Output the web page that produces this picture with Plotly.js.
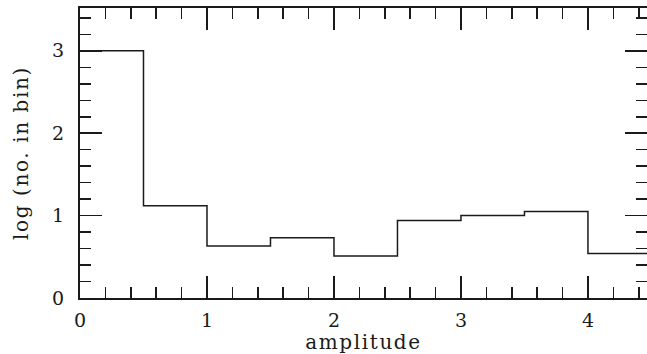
<!DOCTYPE html>
<html>
<head>
<meta charset="utf-8">
<script src="https://cdn.plot.ly/plotly-3.0.1.min.js"></script>
<style>html,body{margin:0;padding:0;background:#fff;}#chart{width:647px;height:354px;}
.xtitle,.ytitle{letter-spacing:1.6px;}</style>
</head>
<body>
<div id="chart"></div>
<script>
// bin edges (left) and log(no. in bin) values
const binLeft = [0, 0.5, 1.0, 1.5, 2.0, 2.5, 3.0, 3.5, 4.0];
const binWidth = 0.5;
const logCounts = [3.0, 1.12, 0.63, 0.73, 0.51, 0.94, 1.00, 1.05, 0.54];
const xTickVals = [0, 1, 2, 3, 4];
const yTickVals = [0, 1, 2, 3];

const xs = binLeft.concat([binLeft[binLeft.length - 1] + binWidth]);
const ys = logCounts.concat([logCounts[logCounts.length - 1]]);

const ink = '#1a1a1a';
const tickFnt = {family: 'DejaVu Serif, serif', size: 19, color: ink};
const titleFnt = {family: 'DejaVu Serif, serif', size: 20, color: ink};

const trace = {
  x: xs, y: ys, type: 'scatter', mode: 'lines',
  line: {shape: 'hv', color: ink, width: 1.5},
  hoverinfo: 'skip'
};

const axisCommon = {
  showline: true, linecolor: ink, linewidth: 2,
  mirror: 'allticks', ticks: 'inside', ticklen: 22, tickwidth: 1.5, tickcolor: ink,
  showgrid: false, zeroline: false, tickfont: tickFnt,
  minor: {dtick: 0.2, ticks: 'inside', ticklen: 11, tickwidth: 1.5, tickcolor: ink, showgrid: false}
};

const layout = {
  width: 647, height: 354,
  margin: {l: 80, r: 0, t: 8, b: 56},
  paper_bgcolor: '#fff', plot_bgcolor: '#fff',
  showlegend: false,
  font: tickFnt,
  xaxis: Object.assign({}, axisCommon, {
    range: [0, 4.465], tickmode: 'array', tickvals: xTickVals,
    ticktext: xTickVals.map(String), ticklabelstandoff: 4,
    title: {text: 'amplitude', font: titleFnt, standoff: 0}
  }),
  yaxis: Object.assign({}, axisCommon, {
    range: [0, 3.52], tickmode: 'array', tickvals: yTickVals,
    ticktext: yTickVals.map(String), ticklabelstandoff: 10,
    title: {text: 'log (no. in bin)', font: titleFnt, standoff: 18}
  })
};

Plotly.newPlot('chart', [trace], layout, {staticPlot: true, displayModeBar: false});
</script>
</body>
</html>
